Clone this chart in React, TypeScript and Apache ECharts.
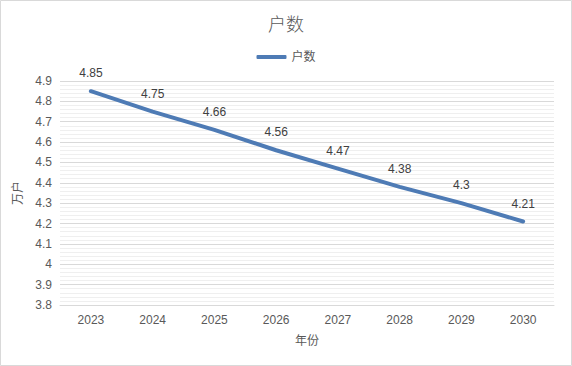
import React, { useEffect, useRef } from "react";
import * as echarts from "echarts";

const categories = ["2023", "2024", "2025", "2026", "2027", "2028", "2029", "2030"];
const households = [4.85, 4.75, 4.66, 4.56, 4.47, 4.38, 4.3, 4.21];
const seriesName = "户数";

export default function App() {
  const ref = useRef<HTMLDivElement>(null);
  useEffect(() => {
    if (!ref.current) return;
    const chart = echarts.init(ref.current, null, { renderer: "svg" });
    const font = "'Liberation Sans', 'Noto Sans CJK SC', sans-serif";
    chart.setOption({
      animation: false,
      backgroundColor: "#ffffff",
      textStyle: { fontFamily: font },
      graphic: [
        {
          type: "rect",
          shape: { x: 0.5, y: 0.5, width: 571, height: 365 },
          style: { fill: "none", stroke: "#d9d9d9", lineWidth: 1 },
          silent: true,
        },
      ],
      title: {
        text: "户数",
        left: "center",
        top: 9,
        textStyle: { fontSize: 18, fontWeight: 300, color: "#595959", fontFamily: "'Noto Sans CJK SC', sans-serif" },
      },
      legend: {
        top: 46,
        left: "center",
        itemWidth: 30,
        itemHeight: 4,
        itemGap: 5,
        data: [{ name: seriesName, icon: "roundRect" }],
        textStyle: { fontSize: 12, color: "#595959", fontFamily: font },
      },
      grid: { left: 60, right: 18, top: 81, bottom: 61 },
      xAxis: {
        type: "category",
        data: categories,
        boundaryGap: true,
        name: "年份",
        nameLocation: "middle",
        nameGap: 30,
        nameTextStyle: { fontSize: 12, color: "#595959", fontFamily: font },
        axisLine: { show: true, lineStyle: { color: "#d9d9d9" } },
        axisTick: { show: false },
        axisLabel: { fontSize: 12, color: "#595959", margin: 9, fontFamily: font },
      },
      yAxis: {
        type: "value",
        min: 3.8,
        max: 4.9,
        interval: 0.1,
        name: "万户",
        nameLocation: "middle",
        nameGap: 34,
        nameTextStyle: { fontSize: 12, color: "#595959", fontFamily: font },
        axisLine: { show: false },
        axisTick: { show: false },
        axisLabel: {
          fontSize: 12,
          color: "#595959",
          margin: 8,
          fontFamily: font,
          formatter: (v: number) => String(Math.round(v * 10) / 10),
        },
        splitLine: { show: true, lineStyle: { color: "#d9d9d9", width: 1 } },
        minorTick: { show: false, splitNumber: 5 },
        minorSplitLine: { show: true, lineStyle: { color: "#efefef", width: 1 } },
      },
      series: [
        {
          name: seriesName,
          type: "line",
          data: households,
          symbol: "circle",
          symbolSize: 2,
          showSymbol: true,
          lineStyle: { color: "#4e7bb5", width: 4, cap: "round" },
          itemStyle: { color: "#4e7bb5" },
          label: {
            show: true,
            position: "top",
            distance: 11,
            fontSize: 12,
            color: "#404040",
            fontFamily: font,
          },
        },
      ],
    });
    return () => chart.dispose();
  }, []);
  return (
    <div
      ref={ref}
      style={{ position: "fixed", left: 0, top: 0, width: 572, height: 366 }}
    />
  );
}
